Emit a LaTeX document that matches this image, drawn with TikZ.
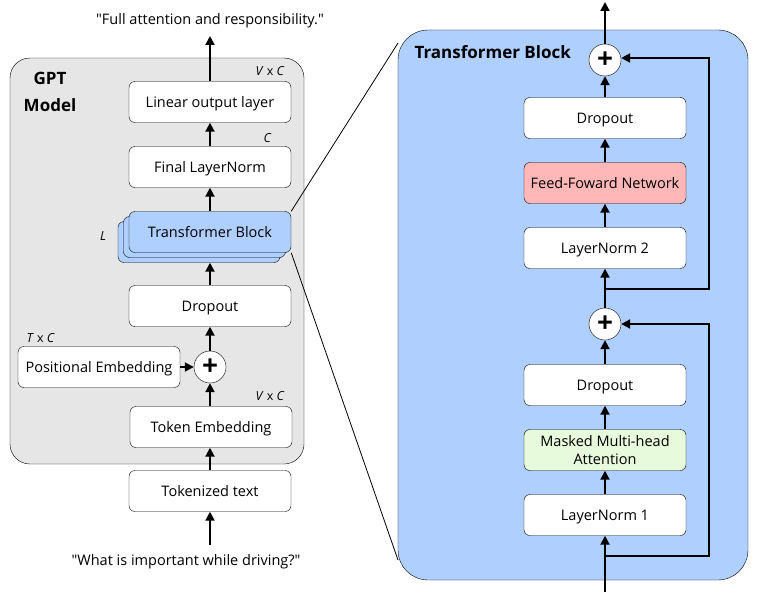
\documentclass[tikz,border=0pt]{standalone}
\usepackage{fontspec}
\setmainfont{Open Sans}
\usepackage{tikz}
\usetikzlibrary{arrows.meta}

\definecolor{panelgray}{RGB}{230,230,230}
\definecolor{blockblue}{RGB}{175,207,255}
\definecolor{ffnred}{RGB}{255,183,183}
\definecolor{attgreen}{RGB}{232,250,220}

\tikzset{
  layer/.style={draw, rounded corners=6pt, fill=white, minimum width=162pt,
    minimum height=41pt, inner sep=2pt, align=center,
    text height=13.5pt, text depth=2.5pt,
    font=\fontsize{14.5}{18}\selectfont},
  adder/.style={draw, circle, fill=white, minimum size=32pt, inner sep=0pt,
    font=\fontsize{28}{28}\selectfont\bfseries},
  dim/.style={font=\fontsize{12.5}{14}\selectfont},
  quote/.style={font=\fontsize{14.5}{18}\selectfont},
  flow/.style={line width=2pt, -{Triangle[length=9pt,width=9pt]}},
  title/.style={font=\fontsize{17}{27}\selectfont\bfseries, align=center}
}

\begin{document}
\begin{tikzpicture}[x=1pt, y=-1pt]
    \useasboundingbox (0,0) rectangle (768,602);
    % panels
    \draw[rounded corners=20pt, fill=panelgray] (10,58) rectangle (304,464);
    \draw[rounded corners=30pt, fill=blockblue] (398,30) rectangle (748,580);
    \node[title] (gptT) at (50,92){GPT\\Model};
    \node[title, anchor=west] (tbT) at (411,52){Transformer Block};

    % GPT model
    \node[layer] (tok) at (210,491){Tokenized text};
    \node[layer] (emb) at (211,427){Token Embedding};
    \node[layer] (pos) at (99,367){Positional Embedding};
    \node[adder] (addE) at (210,367){+};
    \node[layer] (drop) at (210,306){Dropout};
    \node[layer, fill=blockblue] (tb3) at (199,242){};
    \node[layer, fill=blockblue] (tb2) at (204.5,237){};
    \node[layer, fill=blockblue] (tb) at (210,232){Transformer Block};
    \node[layer] (fln) at (210,167){Final LayerNorm};
    \node[layer] (lin) at (210,102){Linear output layer};
    \node[quote] (outT) at (210,21){\textquotedbl Full attention and responsibility.\textquotedbl};
    \node[quote] (inT) at (186,562){\textquotedbl What is important while driving?\textquotedbl};
    \coordinate (outC) at (210,36);
    \coordinate (inC) at (210,545);

    \node[dim, anchor=east] (d1) at (288,71){\textit{V} x \textit{C}};
    \node[dim, anchor=east] (d2) at (275,138){\textit{C}};
    \node[dim] (d3) at (103,236){\textit{L}};
    \node[dim, anchor=west] (d4) at (23,338){\textit{T} x \textit{C}};
    \node[dim, anchor=east] (d5) at (288,396){\textit{V} x \textit{C}};

    \draw[flow] (inC)--(tok);
    \draw[flow] (tok)--(tok|-emb.south);
    \draw[flow] (addE|-emb.north)--(addE);
    \draw[flow] (pos)--(addE);
    \draw[flow] (addE)--(drop);
    \draw[flow] (drop)--(tb|-tb3.south);
    \draw[flow] (tb)--(fln);
    \draw[flow] (fln)--(lin);
    \draw[flow] (lin)--(outC);

    % zoom lines
    \coordinate (zTop) at (398,43);
    \coordinate (zBot) at (398,560);
    \draw[line width=0.8pt] (tb.north east)--(zTop);
    \draw[line width=0.8pt] (tb.south east)--(zBot);

    % Transformer block
    \node[layer] (ln1) at (605,515){LayerNorm 1};
    \node[layer, fill=attgreen, text height=, text depth=] (mha) at (605,450){Masked Multi-head\\Attention};
    \node[layer] (drop1) at (605,385){Dropout};
    \node[adder] (add1) at (605,324){+};
    \node[layer] (ln2) at (605,248){LayerNorm 2};
    \node[layer, fill=ffnred] (ffn) at (605,183){Feed-Foward Network};
    \node[layer] (drop2) at (605,118){Dropout};
    \node[adder] (add2) at (605,60){+};
    \coordinate (tbIn) at (605,592);
    \coordinate (tbOut) at (605,2);
    \coordinate (skip1) at (605,556);
    \coordinate (skip2) at (605,289);

    \draw[flow] (tbIn)--(ln1);
    \draw[flow] (ln1)--(mha);
    \draw[flow] (mha)--(drop1);
    \draw[flow] (drop1)--(add1);
    \draw[flow] (add1)--(ln2);
    \draw[flow] (ln2)--(ffn);
    \draw[flow] (ffn)--(drop2);
    \draw[flow] (drop2)--(add2);
    \draw[flow] (add2)--(tbOut);
    \draw[flow] (skip1)-|(709,324)--(add1);
    \draw[flow] (skip2)-|(709,58)--(add2.east|-709,58);
  \end{tikzpicture}
\end{document}
